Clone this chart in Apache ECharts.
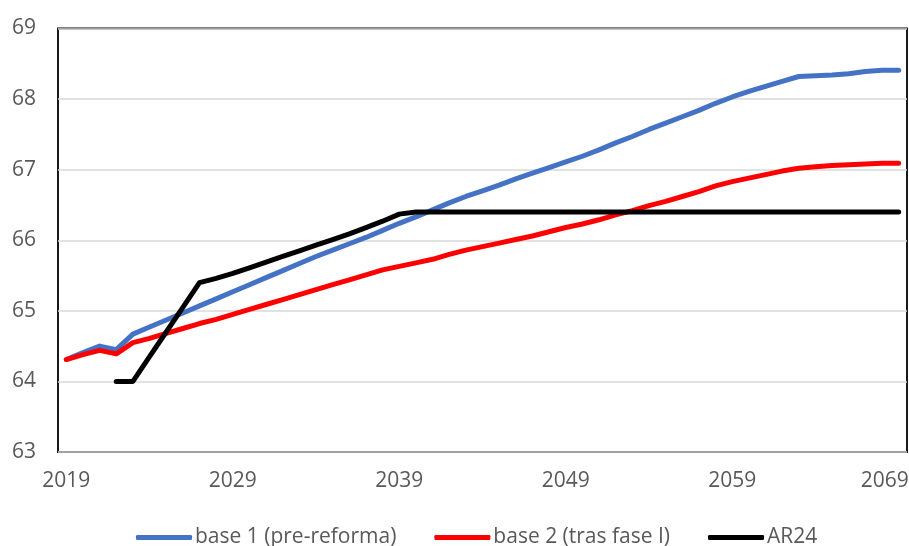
<!DOCTYPE html>
<html>
<head>
<meta charset="utf-8">
<script src="https://cdn.jsdelivr.net/npm/echarts@6/dist/echarts.min.js"></script>
<style>
  html, body { margin: 0; padding: 0; background: #fff; }
  #chart { width: 909px; height: 546px; }
</style>
</head>
<body>
<div id="chart"></div>
<script>
// Years on the category axis
const years = [];
for (let y = 2019; y <= 2069; y++) years.push(String(y));

// Labels shown under the axis
const yearTicks = ['2019', '2029', '2039', '2049', '2059', '2069'];

// base 1 (pre-reforma)
const base1 = [
  64.31, 64.41, 64.50, 64.45, 64.67, 64.77, 64.87, 64.97, 65.07, 65.17,
  65.27, 65.37, 65.47, 65.57, 65.67, 65.77, 65.86, 65.95, 66.04, 66.14,
  66.24, 66.33, 66.43, 66.53, 66.62, 66.70, 66.78, 66.87, 66.95, 67.03,
  67.11, 67.19, 67.28, 67.38, 67.47, 67.57, 67.66, 67.75, 67.84, 67.94,
  68.03, 68.11, 68.18, 68.25, 68.32, 68.33, 68.34, 68.36, 68.39, 68.41,
  68.41
];

// base 2 (tras fase I)
const base2 = [
  64.31, 64.38, 64.44, 64.39, 64.55, 64.61, 64.68, 64.75, 64.82, 64.88,
  64.95, 65.02, 65.09, 65.16, 65.23, 65.30, 65.37, 65.44, 65.51, 65.58,
  65.63, 65.68, 65.73, 65.80, 65.86, 65.91, 65.96, 66.01, 66.06, 66.12,
  66.18, 66.23, 66.29, 66.36, 66.42, 66.49, 66.55, 66.62, 66.69, 66.77,
  66.83, 66.88, 66.93, 66.98, 67.02, 67.04, 67.06, 67.07, 67.08, 67.09,
  67.09
];

// AR24 (starts in 2022)
const ar24 = [
  null, null, null, 64.00, 64.00, 64.35, 64.70, 65.05, 65.40, 65.46,
  65.53, 65.61, 65.69, 65.77, 65.85, 65.93, 66.01, 66.09, 66.18, 66.27,
  66.37, 66.40, 66.40, 66.40, 66.40, 66.40, 66.40, 66.40, 66.40, 66.40,
  66.40, 66.40, 66.40, 66.40, 66.40, 66.40, 66.40, 66.40, 66.40, 66.40,
  66.40, 66.40, 66.40, 66.40, 66.40, 66.40, 66.40, 66.40, 66.40, 66.40,
  66.40
];

const FONT = '"Open Sans", "Noto Sans", sans-serif';
const GREY = '#595959';
const FS = 21;

function lineSeries(name, data, color) {
  return {
    name: name,
    type: 'line',
    data: data,
    showSymbol: false,
    symbol: 'none',
    connectNulls: false,
    lineStyle: { color: color, width: 5, cap: 'round', join: 'round' },
    itemStyle: { color: color },
    emphasis: { disabled: true },
    animation: false
  };
}

const chart = echarts.init(document.getElementById('chart'), null, { renderer: 'canvas' });
chart.setOption({
  backgroundColor: '#ffffff',
  animation: false,
  grid: {
    left: 58, right: 2, top: 28.5, bottom: 94,
    containLabel: false,
    outerBoundsMode: 'none',
    show: true, borderColor: '#000000', borderWidth: 1.8, backgroundColor: 'transparent'
  },
  legend: {
    bottom: -7,
    left: 131,
    itemWidth: 56,
    itemHeight: 5,
    itemGap: 38,
    icon: 'roundRect',
    textStyle: { fontFamily: FONT, fontSize: FS, color: GREY, padding: [0, 0, 0, -2] },
    data: ['base 1 (pre-reforma)', 'base 2 (tras fase I)', 'AR24']
  },
  xAxis: {
    type: 'category',
    data: years,
    boundaryGap: true,
    axisLine: { show: false },
    axisTick: { show: false },
    splitLine: { show: false },
    axisLabel: {
      interval: function (i, v) { return yearTicks.indexOf(v) >= 0; },
      margin: 19,
      fontFamily: FONT,
      fontSize: FS,
      color: GREY,
      hideOverlap: false,
      formatter: function (v) {
        return v === yearTicks[yearTicks.length - 1] ? '{t|' + v + '}{s|}' : '{t|' + v + '}';
      },
      rich: {
        t: { fontFamily: FONT, fontSize: FS, color: GREY },
        s: { width: 28 }
      }
    }
  },
  yAxis: {
    type: 'value',
    min: 63,
    max: 69,
    interval: 1,
    axisLine: { show: false },
    axisTick: { show: false },
    splitLine: { lineStyle: { color: '#d9d9d9', width: 1.5 } },
    axisLabel: { margin: 22, fontFamily: FONT, fontSize: FS, color: GREY }
  },
  series: [
    lineSeries('base 1 (pre-reforma)', base1, '#4472C4'),
    lineSeries('base 2 (tras fase I)', base2, '#FF0000'),
    lineSeries('AR24', ar24, '#000000')
  ]
});
</script>
</body>
</html>
